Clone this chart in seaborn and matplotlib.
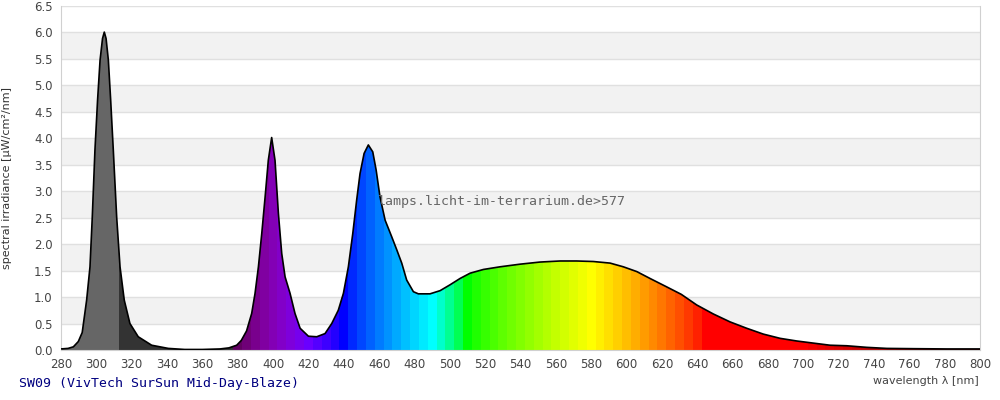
import numpy as np
import matplotlib
matplotlib.use('Agg')
import matplotlib.pyplot as plt
from matplotlib.patches import Polygon
import seaborn as sns

# spectrum (nm, µW/cm²/nm)
wavelength = [280, 284, 287, 289.8, 292, 294.5, 296.4, 297.7, 299.2, 300.7, 302.1, 303.5,
              304.5, 305.5, 306.8, 308.1, 309.6, 311.5, 313.4, 315.8, 319, 323.7, 331.3,
              340.7, 350, 360, 370, 375, 379.4, 382, 385, 387.9, 389.8, 391.7, 393.6, 395.5,
              397.3, 399.2, 401.1, 403, 404.9, 406.8, 409.6, 412.4, 415.3, 420, 424.7,
              429.4, 433.2, 436.9, 439.8, 442.6, 445.1, 447.3, 449.2, 451.5, 453.9, 456.4,
              458.3, 460.5, 463.4, 467.1, 470, 472.8, 475.6, 479.4, 482.2, 488.8, 494.5,
              500.1, 505.8, 511.5, 519, 528.4, 539.8, 551.1, 562.4, 571.8, 581.2, 590.7,
              598.2, 605.8, 613.3, 622.8, 631, 639.7, 649.1, 658.6, 668, 677.4, 686.9,
              696.3, 705.7, 715.2, 724.6, 735.9, 747.3, 762.3, 781.2, 800]
irradiance = [0.02, 0.03, 0.06, 0.16, 0.33, 0.94, 1.57, 2.51, 3.77, 4.72, 5.47, 5.88,
              6.0, 5.88, 5.47, 4.72, 3.77, 2.51, 1.57, 0.94, 0.5, 0.25, 0.09,
              0.03, 0.01, 0.01, 0.02, 0.04, 0.09, 0.18, 0.36, 0.69, 1.07, 1.57, 2.2, 2.89,
              3.58, 4.01, 3.58, 2.58, 1.82, 1.38, 1.07, 0.69, 0.41, 0.26, 0.25,
              0.31, 0.5, 0.75, 1.07, 1.57, 2.2, 2.83, 3.33, 3.71, 3.87, 3.74,
              3.4, 2.89, 2.45, 2.14, 1.89, 1.64, 1.32, 1.1, 1.06, 1.06, 1.12,
              1.23, 1.35, 1.45, 1.52, 1.57, 1.62, 1.66, 1.68, 1.68, 1.67, 1.64,
              1.57, 1.48, 1.35, 1.19, 1.05, 0.85, 0.68, 0.53, 0.41, 0.3, 0.22,
              0.17, 0.13, 0.09, 0.08, 0.05, 0.03, 0.025, 0.02, 0.02]

x_ticks = list(range(280, 801, 20))
y_ticks = [i * 0.5 for i in range(14)]
title = 'SW09 (VivTech SurSun Mid-Day-Blaze)'
watermark = 'lamps.licht-im-terrarium.de>577'


def spectrum_color(l):
    # approximate visible colour for a wavelength
    l = min(l, 780)
    if l < 440:
        r, g, b = (440 - l) / 60, 0, 1
    elif l < 490:
        r, g, b = 0, (l - 440) / 50, 1
    elif l < 510:
        r, g, b = 0, 1, (510 - l) / 20
    elif l < 580:
        r, g, b = (l - 510) / 70, 1, 0
    elif l < 645:
        r, g, b = 1, (645 - l) / 65, 0
    else:
        r, g, b = 1, 0, 0
    if l < 420:
        f = 0.3 + 0.7 * (l - 380) / 40
    elif l > 700:
        f = 0.3 + 0.7 * (780 - l) / 80
    else:
        f = 1.0
    return tuple((c * f) ** 0.8 if c > 0 else 0 for c in (r, g, b))


sns.set_style('white')
plt.rcParams['font.family'] = ['DejaVu Sans']

fig = plt.figure(figsize=(10, 4), dpi=100)
ax = fig.add_axes([0.061, 0.125, 0.919, 0.861])

# alternating background bands
for lo in y_ticks[1::2]:
    ax.axhspan(lo, lo + 0.5, color='#f2f2f2', zorder=0, lw=0)
ax.yaxis.grid(True, color='#e0e0e0', lw=1)
ax.xaxis.grid(False)
ax.set_axisbelow(True)

# area under curve used as clip shape
verts = [(wavelength[0], 0)] + list(zip(wavelength, irradiance)) + [(wavelength[-1], 0)]
area = Polygon(verts, closed=True, facecolor='none', edgecolor='none', transform=ax.transData)
ax.add_patch(area)

# colour strips
edges = [280, 313, 377.5] + [377.5 + 5 * i for i in range(1, 85)]
edges = [e for e in edges if e <= 800] + [800]
strip_colors = []
for lo, hi in zip(edges[:-1], edges[1:]):
    if hi <= 313:
        strip_colors.append('#666666')
    elif hi <= 377.5:
        strip_colors.append('#333333')
    else:
        strip_colors.append(spectrum_color((lo + hi) / 2))
bars = ax.bar(edges[:-1], 6.5, width=np.diff(edges), align='edge',
              color=strip_colors, linewidth=0, zorder=2)
for b in bars:
    b.set_clip_path(area)

sns.lineplot(x=wavelength, y=irradiance, color='black', linewidth=1.2, ax=ax, zorder=3)

ax.set_xlim(280, 800)
ax.set_ylim(0, 6.5)
ax.set_xticks(x_ticks)
ax.set_yticks(y_ticks)
ax.set_yticklabels([f'{v:.1f}' for v in y_ticks])
ax.tick_params(axis='both', length=0, labelsize=8.5, colors='#444444', pad=6)

for s in ['left', 'bottom', 'right']:
    ax.spines[s].set_color('#d0d0d0')
ax.spines['top'].set_visible(False)

ax.set_ylabel('spectral irradiance [µW/cm²/nm]', fontsize=8, color='#333333', labelpad=8)
ax.yaxis.set_label_coords(-0.053, 0.5)
fig.text(0.979, 0.047, 'wavelength λ [nm]', ha='right', va='center', fontsize=8, color='#444444')
fig.text(0.019, 0.04, title, ha='left', va='center', fontsize=9.5,
         family='DejaVu Sans Mono', color='#000080')
ax.text(378, 2.81, watermark, ha='left', va='center', fontsize=9.5,
        family='DejaVu Sans Mono', color='#666666', zorder=4)
# watermark x in data coords
ax.texts[-1].set_x(280 + (378 - 61) / 919 * 520)

fig.savefig('out.png', dpi=100)
